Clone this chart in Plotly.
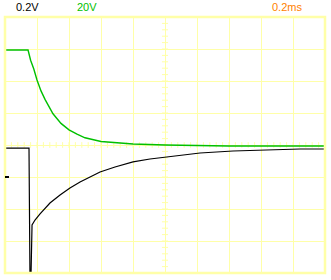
import plotly.graph_objects as go

# Scope settings
ch1_label = "0.2V"
ch2_label = "20V"
time_label = "0.2ms"
ch1_v_per_div = 0.2
ch2_v_per_div = 20.0
ms_per_div = 0.2
ch1_ground_div = -1.0
ch2_ground_div = 0.0

# Channel 1 (black) samples: time (ms), voltage (V)
ch1_t = [0.0, 0.15, 0.156, 0.1625, 0.169, 0.1875, 0.219, 0.25, 0.281, 0.344, 0.406,
         0.469, 0.531, 0.594, 0.6875, 0.8, 0.906, 1.0125, 1.219, 1.425, 1.6375, 1.844, 2.0]
ch1_v = [0.181, 0.181, -0.62, -0.62, -0.30, -0.269, -0.231, -0.194, -0.1625, -0.1125, -0.069,
         -0.031, 0.0, 0.031, 0.0625, 0.094, 0.1125, 0.125, 0.150, 0.1625, 0.169, 0.175, 0.175]

# Channel 2 (green) samples: time (ms), voltage (V)
ch2_t = [0.0, 0.144, 0.16, 0.18, 0.2, 0.225, 0.25, 0.275, 0.3, 0.35, 0.4, 0.45,
         0.5, 0.6, 0.7, 0.8, 1.0, 1.4, 2.0]
ch2_v = [59.4, 59.4, 53.0, 47.5, 40.6, 33.8, 28.5, 23.5, 19.5, 13.5, 9.5, 6.8,
         4.5, 2.2, 1.2, 0.6, 0.0, -0.6, -0.6]

grid_color = "#FFFFA8"

fig = go.Figure()
fig.add_trace(go.Scatter(
    x=ch2_t, y=[v / ch2_v_per_div + ch2_ground_div for v in ch2_v],
    mode="lines", line=dict(color="#00C000", width=1.4), hoverinfo="skip"))
fig.add_trace(go.Scatter(
    x=ch1_t, y=[v / ch1_v_per_div + ch1_ground_div for v in ch1_v],
    mode="lines", line=dict(color="#000000", width=1.2), hoverinfo="skip"))

shapes = []
# minor ticks along centre lines
for i in range(1, 50):
    x = i * ms_per_div / 5
    shapes.append(dict(type="line", xref="x", yref="y", x0=x, x1=x, y0=-0.09, y1=0.09,
                       line=dict(color=grid_color, width=1), layer="below"))
for j in range(1, 40):
    y = -4 + j * 0.2
    shapes.append(dict(type="line", xref="x", yref="y", x0=5 * ms_per_div - 0.019,
                       x1=5 * ms_per_div + 0.019, y0=y, y1=y,
                       line=dict(color=grid_color, width=1), layer="below"))
# border
shapes.append(dict(type="rect", xref="paper", yref="paper", x0=0, x1=1, y0=0, y1=1,
                   line=dict(color=grid_color, width=2.5)))
# channel 1 ground marker
shapes.append(dict(type="line", xref="x", yref="y", x0=0.0, x1=0.025,
                   y0=ch1_ground_div, y1=ch1_ground_div, line=dict(color="black", width=2)))

font = "Liberation Sans Narrow, Liberation Sans"
annotations = [
    dict(text=ch1_label, x=0.028, y=1.039, xref="paper", yref="paper", xanchor="left",
         yanchor="middle", showarrow=False, font=dict(family=font, size=11, color="black")),
    dict(text=ch2_label, x=0.219, y=1.039, xref="paper", yref="paper", xanchor="left",
         yanchor="middle", showarrow=False, font=dict(family=font, size=11, color="#00C000")),
    dict(text=time_label, x=0.935, y=1.039, xref="paper", yref="paper", xanchor="right",
         yanchor="middle", showarrow=False, font=dict(family=font, size=11, color="#FF8000")),
]

fig.update_layout(
    width=331, height=280, margin=dict(l=5, r=6, t=17, b=7),
    paper_bgcolor="white", plot_bgcolor="white", showlegend=False,
    shapes=shapes, annotations=annotations,
    xaxis=dict(range=[0, 10 * ms_per_div], dtick=ms_per_div, showgrid=True,
               gridcolor=grid_color, gridwidth=1, zeroline=False, showticklabels=False,
               ticks="", fixedrange=True),
    yaxis=dict(range=[-4, 4], dtick=1, showgrid=True, gridcolor=grid_color, gridwidth=1,
               zeroline=False, showticklabels=False, ticks="", fixedrange=True),
)

fig.write_html("out.html", config={"displayModeBar": False})
